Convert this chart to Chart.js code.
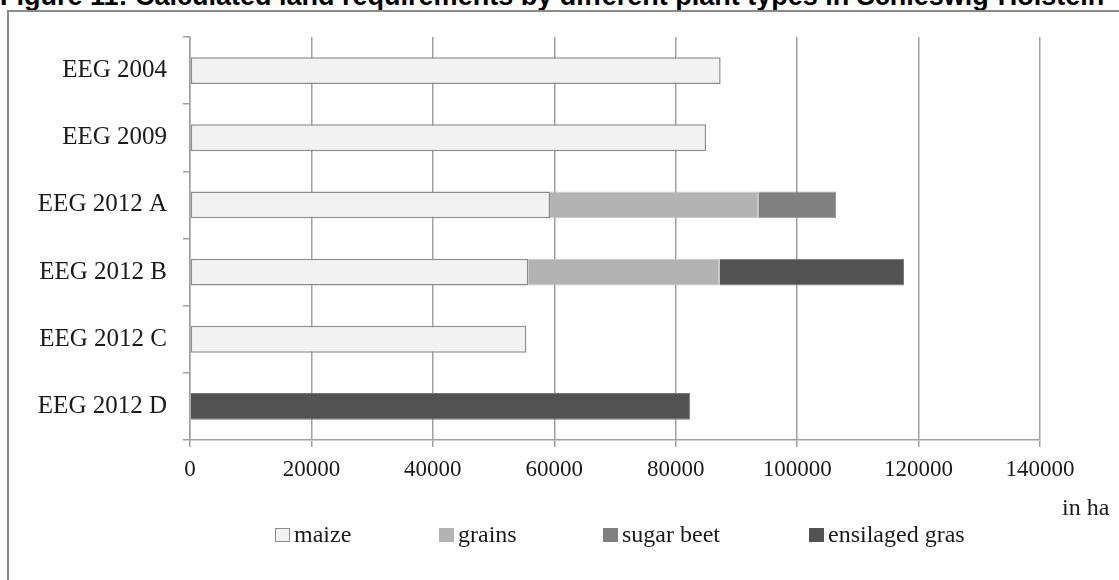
<!DOCTYPE html>
<html>
<head>
<meta charset="utf-8">
<script src="https://cdn.jsdelivr.net/npm/chart.js@4"></script>
<style>
  body { margin: 0; background: #fff; width: 1119px; height: 580px; overflow: hidden; position: relative; }
  #title { position: absolute; left: 0; top: -17px; font: bold 27px "Liberation Sans", Arial, sans-serif; line-height: 1; white-space: nowrap; color: #000; }
  #frame { position: absolute; left: 7px; top: 10px; width: 1200px; height: 700px; border-left: 2px solid #8a8a8a; border-top: 2px solid #8a8a8a; }
  #wrap { position: absolute; left: 0; top: 0; width: 1119px; height: 580px; }
  #legend { position: absolute; left: 275px; top: 521px; display: flex; font: 24px "Liberation Serif", serif; color: #1a1a1a; }
  #legend .item { display: flex; align-items: center; }
  #legend .item:nth-child(1) { width: 164px; }
  #legend .item:nth-child(2) { width: 164px; }
  #legend .item:nth-child(3) { width: 206px; }
  #legend .box { width: 13px; height: 12px; margin-right: 4px; }
</style>
</head>
<body>
<div id="title">Figure 11: Calculated land requirements by different plant types in Schleswig-Holstein</div>
<div id="frame"></div>
<div id="wrap"><canvas id="chart" width="1119" height="580"></canvas></div>
<div id="legend"></div>
<script>
const categories = ['EEG 2004', 'EEG 2009', 'EEG 2012 A', 'EEG 2012 B', 'EEG 2012 C', 'EEG 2012 D'];
const maize = [87400, 85000, 59300, 55700, 55400, null];
const grains = [null, null, 34300, 31500, null, null];
const sugarBeet = [null, null, 12800, null, null, null];
const ensilagedGras = [null, null, null, 30400, null, 82400];
const xTicks = [0, 20000, 40000, 60000, 80000, 100000, 120000, 140000];

const serif = '"Liberation Serif", "Times New Roman", serif';
const gridGray = '#a0a0a0';

const unitLabel = {
    id: 'unitLabel',
    afterDraw: function (chart) {
        const ctx = chart.ctx;
        const area = chart.chartArea;
        ctx.save();
        ctx.font = '24px ' + serif;
        ctx.fillStyle = '#1a1a1a';
        ctx.textBaseline = 'middle';
        ctx.fillText('in ha', area.right + 22, area.bottom + 69);
        ctx.restore();
    }
};

const htmlLegend = {
    id: 'htmlLegend',
    afterUpdate: function (chart) {
        const el = document.getElementById('legend');
        el.innerHTML = '';
        chart.data.datasets.forEach(function (ds) {
            const item = document.createElement('div');
            item.className = 'item';
            const box = document.createElement('span');
            box.className = 'box';
            box.style.background = ds.backgroundColor;
            box.style.border = '1px solid ' + ds.legendBorder;
            const txt = document.createElement('span');
            txt.textContent = ds.label;
            item.appendChild(box);
            item.appendChild(txt);
            el.appendChild(item);
        });
    }
};

new Chart(document.getElementById('chart'), {
    type: 'bar',
    data: {
        labels: categories,
        datasets: [
            { label: 'maize', data: maize, backgroundColor: '#f2f2f2', borderColor: '#8c8c8c', borderWidth: 1.5, borderSkipped: false, legendBorder: '#8c8c8c' },
            { label: 'grains', data: grains, backgroundColor: '#b3b3b3', borderColor: '#c6c6c6', borderWidth: 1, legendBorder: '#b3b3b3' },
            { label: 'sugar beet', data: sugarBeet, backgroundColor: '#808080', borderColor: '#999999', borderWidth: 1, legendBorder: '#808080' },
            { label: 'ensilaged gras', data: ensilagedGras, backgroundColor: '#525252', borderColor: '#777777', borderWidth: 1, legendBorder: '#525252' }
        ]
    },
    options: {
        indexAxis: 'y',
        responsive: false,
        animation: false,
        barPercentage: 0.4,
        categoryPercentage: 1,
        layout: { padding: { left: 0, right: 79, top: 37, bottom: 0 } },
        plugins: {
            legend: { display: false },
            tooltip: { enabled: false }
        },
        scales: {
            x: {
                stacked: true,
                min: 0,
                max: 140000,
                afterBuildTicks: function (scale) { scale.ticks = xTicks.map(v => ({ value: v })); },
                afterFit: function (scale) { scale.height = 140; },
                ticks: { callback: v => String(v), font: { family: serif, size: 23 }, color: '#1a1a1a', padding: 9, maxRotation: 0 },
                grid: { color: gridGray, lineWidth: 1.5, tickLength: 7 },
                border: { color: gridGray, width: 1.5 }
            },
            y: {
                stacked: true,
                afterFit: function (scale) { scale.width = 190; },
                ticks: { font: { family: serif, size: 25 }, color: '#1a1a1a', padding: 16 },
                grid: { drawOnChartArea: false, offset: true, color: gridGray, lineWidth: 1.5, tickLength: 7 },
                border: { color: gridGray, width: 1.5 }
            }
        }
    },
    plugins: [unitLabel, htmlLegend]
});
</script>
</body>
</html>
